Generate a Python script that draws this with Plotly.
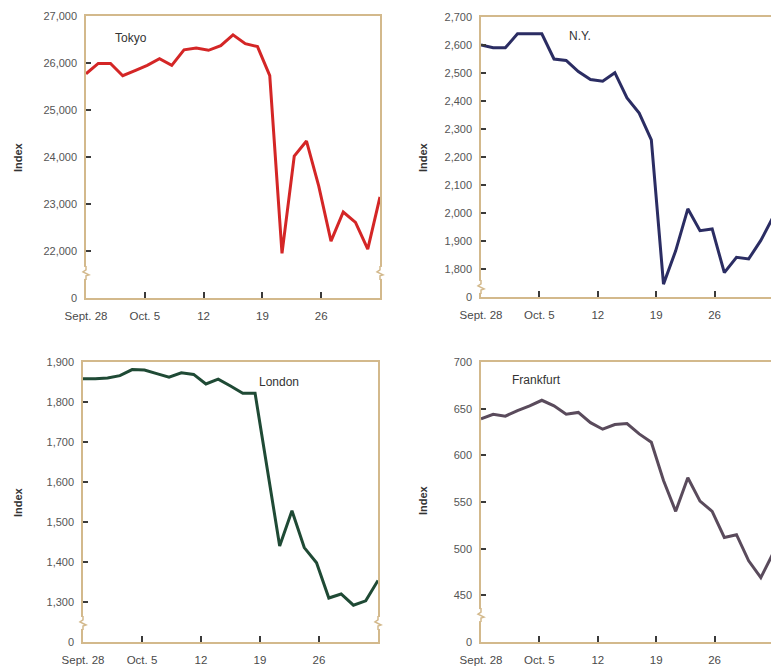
import plotly.graph_objects as go

# ---------------- data ----------------
tick_labels = ["Sept. 28", "Oct. 5", "12", "19", "26"]

tokyo = [25770, 25990, 25990, 25730, 25840, 25950, 26090, 25950, 26280, 26320,
         26270, 26370, 26600, 26410, 26350, 25730, 21950, 24020, 24340, 23380,
         22210, 22830, 22610, 22040, 23150]
ny = [2600, 2590, 2590, 2640, 2640, 2640, 2550, 2545, 2505, 2477,
      2471, 2501, 2411, 2357, 2261, 1746, 1865, 2015, 1937, 1943,
      1787, 1842, 1836, 1902, 1985]
london = [1858, 1858, 1860, 1866, 1881, 1880, 1871, 1862, 1873, 1869,
          1845, 1857, 1840, 1822, 1822, 1633, 1440, 1528, 1436, 1398,
          1310, 1320, 1292, 1303, 1354]
frankfurt = [639, 644, 642, 648, 653, 659, 653, 644, 646, 635,
             628, 633, 634, 623, 614, 573, 540, 576, 551, 540,
             512, 515, 487, 469, 495]

tokyo_ticks = [21000, 22000, 23000, 24000, 25000, 26000, 27000]
tokyo_ticktext = ["0", "22,000", "23,000", "24,000", "25,000", "26,000", "27,000"]
ny_ticks = [1700, 1800, 1900, 2000, 2100, 2200, 2300, 2400, 2500, 2600, 2700]
ny_ticktext = ["0", "1,800", "1,900", "2,000", "2,100", "2,200", "2,300",
               "2,400", "2,500", "2,600", "2,700"]
london_ticks = [1200, 1300, 1400, 1500, 1600, 1700, 1800, 1900]
london_ticktext = ["0", "1,300", "1,400", "1,500", "1,600", "1,700", "1,800", "1,900"]
frankfurt_ticks = [400, 450, 500, 550, 600, 650, 700]
frankfurt_ticktext = ["0", "450", "500", "550", "600", "650", "700"]

panels = [
    # name, values, colour, y ticks, y tick text
    ("Tokyo", tokyo, "#d42626", tokyo_ticks, tokyo_ticktext),
    ("N.Y.", ny, "#2b2d63", ny_ticks, ny_ticktext),
    ("London", london, "#1f4a35", london_ticks, london_ticktext),
    ("Frankfurt", frankfurt, "#5a4b5c", frankfurt_ticks, frankfurt_ticktext),
]

# ---------------- layout geometry ----------------
W, H = 771, 666
FRAME = "#d3b98c"
TICKC = "#3a3a3a"
FONT = "Liberation Sans, Arial, sans-serif"

# panel boxes in pixels (left, right, top, bottom)
boxes = [
    (86, 380, 16, 298),
    (481, 771, 17, 297),
    (83, 378, 362, 642),
    (481, 771, 362, 642),
]
full_width = [294, 292, 295, 292]
label_pos = [(0.092, 0.922), (0.297, 0.932), (0.59, 0.929), (0.10, 0.936)]
break_pos = [0.089, 0.036, 0.068, 0.096]
index_pos = [(18, 157), (423, 157), (18, 502), (423, 500)]

fig = go.Figure()
layout = dict(
    template="none",
    width=W, height=H, margin=dict(l=0, r=0, t=0, b=0, pad=0),
    autosize=False,
    paper_bgcolor="white", plot_bgcolor="white", showlegend=False,
    font=dict(family=FONT, color="#555555"),
    shapes=[], annotations=[],
)

for k, (name, vals, col, yt, ytt) in enumerate(panels):
    n = len(vals)
    last = n - 1
    xs = list(range(n))
    sfx = "" if k == 0 else str(k + 1)
    l, r, t, b = boxes[k]
    vis = (r - l) / full_width[k]
    fig.add_trace(go.Scatter(
        x=xs, y=vals, mode="lines", xaxis="x" + sfx, yaxis="y" + sfx,
        line=dict(color=col, width=3, shape="linear"), hoverinfo="skip",
    ))
    tickvals_x = [last * w / 5 for w in range(5)]
    layout["xaxis" + sfx] = dict(
        domain=[l / W, r / W], anchor="y" + sfx, range=[0, last * vis],
        tickvals=tickvals_x, ticktext=tick_labels, ticks="inside",
        ticklen=6, tickwidth=2, tickcolor=TICKC,
        showline=True, mirror=True, linecolor=FRAME, linewidth=1.5,
        showgrid=False, zeroline=False, fixedrange=True, automargin=False,
        ticklabelstandoff=6,
        tickfont=dict(size=11.5, color="#4a4a4a", family=FONT),
    )
    layout["yaxis" + sfx] = dict(
        domain=[1 - b / H, 1 - t / H], anchor="x" + sfx,
        range=[yt[0], yt[-1]], tickvals=yt, ticktext=ytt,
        ticks="inside", ticklen=5, tickwidth=1.5, tickcolor=TICKC,
        showline=True, mirror=True, linecolor=FRAME, linewidth=1.5,
        showgrid=False, zeroline=False, fixedrange=True, automargin=False,
        ticklabelstandoff=5,
        tickfont=dict(size=11, color="#555555", family=FONT),
    )
    # axis-break marks on left and right frame lines
    for xd in (0, 1):
        if xd == 1 and vis < 1:
            continue
        layout["shapes"].append(dict(
            type="path", xref="x" + sfx + " domain", yref="y" + sfx + " domain",
            xsizemode="pixel", ysizemode="pixel", xanchor=xd, yanchor=break_pos[k],
            path="M -2,-6 L 2,-6 L 2,6 L -2,6 Z", fillcolor="white",
            line=dict(width=0), layer="above",
        ))
        layout["shapes"].append(dict(
            type="path", xref="x" + sfx + " domain", yref="y" + sfx + " domain",
            xsizemode="pixel", ysizemode="pixel", xanchor=xd, yanchor=break_pos[k],
            path="M 0,7 L 0,3 L -3,1 L 3,-2 L 0,-3 L 0,-7",
            line=dict(color=FRAME, width=1.5), layer="above",
        ))
    # panel name
    layout["annotations"].append(dict(
        text=name, xref="x" + sfx + " domain", yref="y" + sfx + " domain",
        x=label_pos[k][0], y=label_pos[k][1], xanchor="left", yanchor="middle",
        showarrow=False, font=dict(size=12, color="#333333", family=FONT),
    ))
    # "Index" axis title
    ix, iy = index_pos[k]
    layout["annotations"].append(dict(
        text="<b>Index</b>", xref="paper", yref="paper",
        x=ix / W, y=1 - iy / H, xanchor="center", yanchor="middle",
        textangle=-90, showarrow=False,
        font=dict(size=11, color="#333333", family=FONT),
    ))

fig.update_layout(**layout)
fig.write_html(
    "out.html",
    config={"displayModeBar": False},
    post_script="document.body.style.margin='0';document.body.style.overflow='hidden';",
)
